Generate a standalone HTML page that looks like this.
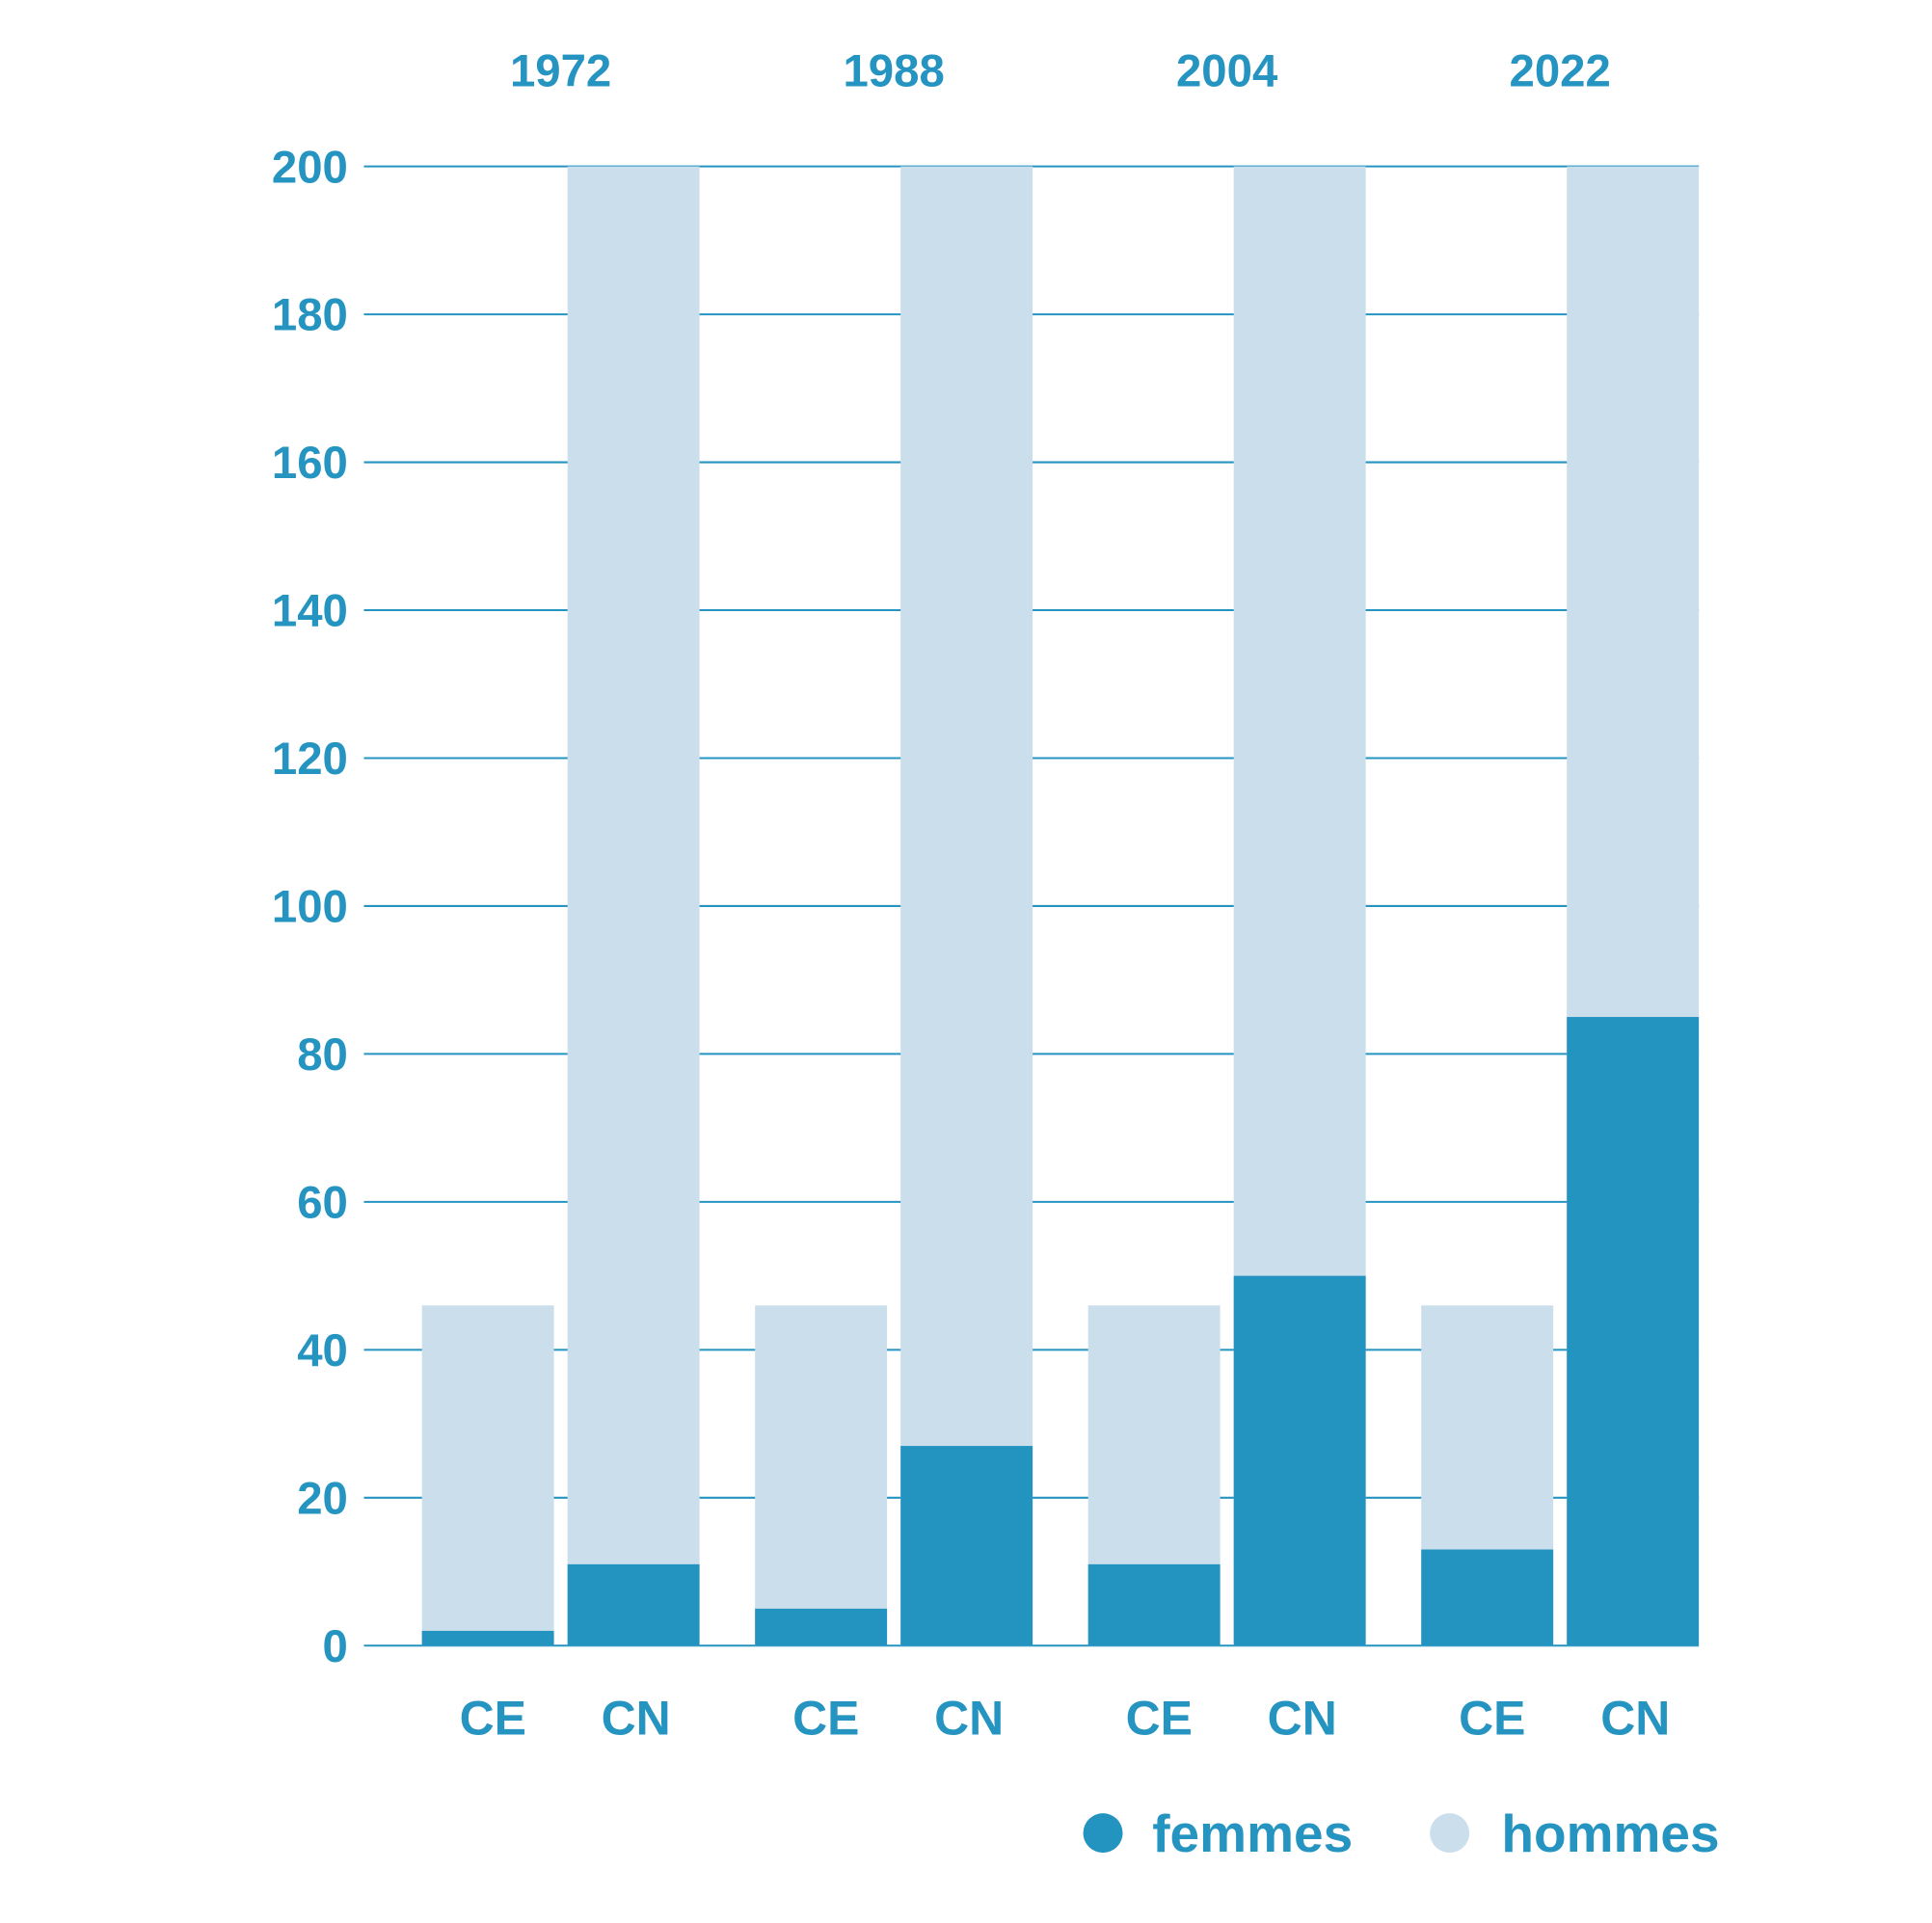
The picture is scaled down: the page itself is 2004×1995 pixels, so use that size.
<!DOCTYPE html>
<html><head><meta charset="utf-8"><style>
html,body{margin:0;padding:0;background:#fff;}
svg{display:block;}
text{font-family:"Liberation Sans",Arial,sans-serif;font-weight:bold;fill:#2594c0;}
</style></head><body>
<svg id="chart" width="2004" height="1995" viewBox="0 0 1566 1560" preserveAspectRatio="none" xmlns="http://www.w3.org/2000/svg">
<g id="grid"></g>
<g id="yaxis"></g>
<g id="bars"></g>
<g id="xaxis"></g>
<g id="legend">
  <circle cx="894" cy="1487" r="16" fill="#2394c0"/>
  <text x="934" y="1502" font-size="43">femmes</text>
  <circle cx="1175" cy="1487" r="16" fill="#cadeec"/>
  <text x="1217" y="1502" font-size="43">hommes</text>
</g>
</svg>
<script>
const years = ["1972","1988","2004","2022"];
const chambers = ["CE","CN"];
const totals = [[46,200],[46,200],[46,200],[46,200]];
const femmes = [[2,11],[5,27],[11,50],[13,85]];
const yTicks = [0,20,40,60,80,100,120,140,160,180,200];

const NS="http://www.w3.org/2000/svg";
const x0=295, x1=1377, yBase=1335, yTop=135, yMax=200;
const yScale=v=>yBase-(v/yMax)*(yBase-yTop);
const groupStart=342, groupStep=270, barW=107, barGap=118;
const barX=(g,c)=>groupStart+g*groupStep+c*barGap;
function mk(tag,attrs,parent){const e=document.createElementNS(NS,tag);for(const k in attrs)e.setAttribute(k,attrs[k]);parent.appendChild(e);return e;}
const grid=document.getElementById('grid'),ya=document.getElementById('yaxis'),bars=document.getElementById('bars'),xa=document.getElementById('xaxis');
yTicks.forEach(t=>{
  const l=mk('line',{x1:x0,x2:x1,y1:yScale(t),y2:yScale(t),stroke:'#2594c0','stroke-width':1.6},grid);
  
  
  const tx=mk('text',{x:282,y:yScale(t)+13,'text-anchor':'end','font-size':37},ya);
  tx.textContent=t;
  
  
});
years.forEach((yr,g)=>{
  const cx=(barX(g,0)+barX(g,1)+barW)/2;
  const yl=mk('text',{x:cx,y:70,'text-anchor':'middle','font-size':37},xa);
  yl.textContent=yr;
  
  
  chambers.forEach((ch,c)=>{
    const x=barX(g,c);
    const h=mk('rect',{x:x,y:yScale(totals[g][c]),width:barW,height:yBase-yScale(totals[g][c]),fill:'#cadeec'},bars);
    
    
    const f=mk('rect',{x:x,y:yScale(femmes[g][c]),width:barW,height:yBase-yScale(femmes[g][c]),fill:'#2394c0'},bars);
    
    
    const cl=mk('text',{x:x+barW/2+(c===0?4:2),y:1407,'text-anchor':'middle','font-size':39},xa);
    cl.textContent=ch;
    
    
  });
});
</script>
</body></html>
